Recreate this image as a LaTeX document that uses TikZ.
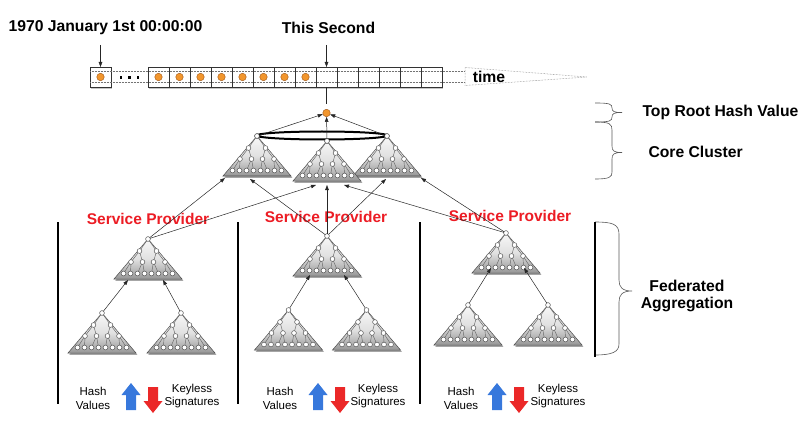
\documentclass[tikz,border=0pt]{standalone}
\usepackage{fontspec}
\setmainfont{Liberation Sans}
\usetikzlibrary{arrows.meta,shadows,calc}
\definecolor{dotorange}{RGB}{242,150,45}
\definecolor{dotedge}{RGB}{160,85,20}
\definecolor{sprov}{RGB}{236,28,36}
\definecolor{harrow}{RGB}{55,120,220}
\definecolor{karrow}{RGB}{235,40,40}
\definecolor{trifillA}{RGB}{248,248,248}
\definecolor{trifillB}{RGB}{150,150,150}
\tikzset{
  arr/.style={draw=black!85, line width=0.5pt, -{Triangle[length=5pt,width=3.6pt]}},
  tnode/.style={fill=white, draw=black!70, line width=0.45pt},
  tedge/.style={draw=black!60, line width=0.45pt},
  cell/.style={draw=black!80, line width=0.6pt, fill=white, minimum width=21pt, minimum height=20pt, inner sep=0pt, outer sep=0pt},
  odot/.style={circle, fill=dotorange, draw=dotedge, line width=0.4pt, minimum size=7.5pt, inner sep=0pt},
  hd/.style={font=\bfseries\fontsize{15.7}{18}\selectfont},
  sp/.style={font=\bfseries\fontsize{15.5}{18}\selectfont, text=sprov},
  sm/.style={font=\fontsize{11.5}{13.3}\selectfont, align=center},
  divider/.style={line width=1.8pt},
  brc/.style={draw=black!65, line width=0.6pt},
  tape/.style={densely dotted, draw=black!55, line width=0.5pt},
  pics/mtree/.style={code={
    \fill[black, opacity=0.35] (1.2,1.8) -- (35.4,41.9) -- (-32.8,41.9) -- cycle;
    \shade[top color=trifillA, bottom color=trifillB, middle color=black!12] (0,0) -- (34,40) -- (-34,40) -- cycle;
    \draw[draw=black!70, line width=0.5pt] (0,0) -- (34,40) -- (-34,40) -- cycle;
    \coordinate (-apex) at (0,0);
    \foreach \a/\b/\c/\d in {0/0/-8.5/12, 0/0/8.5/12, -8.5/12/-17/23, -8.5/12/-5.5/23,
        8.5/12/5.5/23, 8.5/12/17/23, -17/23/-24.5/34.5, -17/23/-17.5/34.5,
        -5.5/23/-10.5/34.5, -5.5/23/-3.5/34.5, 5.5/23/3.5/34.5, 5.5/23/10.5/34.5,
        17/23/17.5/34.5, 17/23/24.5/34.5}
      \draw[tedge] (\a,\b) -- (\c,\d);
    \foreach \x/\y in {0/0, -8.5/12, 8.5/12, -17/23, -5.5/23, 5.5/23, 17/23,
        -24.5/34.5, -17.5/34.5, -10.5/34.5, -3.5/34.5, 3.5/34.5, 10.5/34.5, 17.5/34.5, 24.5/34.5}
      \draw[tnode] (\x,\y) circle (2.4pt);
  }}
}
\begin{document}
\begin{tikzpicture}[x=1pt,y=-1pt]
\useasboundingbox (0,0) rectangle (806,433);

% ---------- timeline ----------
\node[hd] (l1970) at (105.5,28) {1970 January 1st 00:00:00};
\node[hd] (lsec) at (328.5,28) {This Second};
\node[cell, drop shadow={shadow xshift=1.2pt, shadow yshift=-1.8pt, opacity=0.45}] (c0) at (100.5,77) {};
\path[fill=white, drop shadow={shadow xshift=1.2pt, shadow yshift=-1.8pt, opacity=0.45}] (148,67) rectangle (442,87);
\foreach \i in {1,...,14} \node[cell] (c\i) at ({137.5+21*\i},77) {};
\draw[tape] (90,71.5) -- (465,71.5);
\draw[tape] (90,82.5) -- (465,82.5);
\draw[tape] (465,67.5) -- (587,77) -- (465,85.5) -- cycle;
\node[hd] (time) at (489,76.5) {time};
\foreach \x in {121,129.5,138} \fill (\x-1.3,76.2) rectangle (\x+1.3,78.8);
\node[odot] (d0) at (c0) {};
\foreach \i in {1,...,8} \node[odot] (d\i) at (c\i) {};
\coordinate (a1970) at (100.5,45);
\coordinate (asec) at (326.5,45);
\draw[arr] (a1970) -- (c0.north);
\draw[arr] (asec) -- (c9.north);

% ---------- core cluster ----------
\node[odot] (root) at (326.5,113) {};
\draw[line width=0.5pt, black!85, shorten >=5pt] (c9.south) -- (root);
\pic (cl) at (257,136) {mtree};
\pic (cr) at (387,136) {mtree};
\pic (cm) at (327,141) {mtree};
\draw[line width=2pt] (322,135.5) ellipse [x radius=65pt, y radius=4pt];
\foreach \p in {cl-apex, cr-apex, cm-apex} \draw[tnode] (\p) circle (2.4pt);
\draw[arr, shorten <=2.3pt] (cl-apex) -- (root);
\draw[arr, shorten <=2.3pt] (cm-apex) -- (root);
\draw[arr, shorten <=2.3pt] (cr-apex) -- (root);

% ---------- right labels ----------
\draw[brc] (595,103) .. controls (610,103) and (612,104) .. (612,108) .. controls (612,111.5) and (614,112.5) .. (622,112.5)
  .. controls (614,112.5) and (612,113.5) .. (612,117) .. controls (612,121) and (610,122) .. (595,122);
\draw[brc] (595,122) .. controls (610,122) and (612,124) .. (612,130) -- (612,146) .. controls (612,151) and (614,152.5) .. (622,152.5)
  .. controls (614,152.5) and (612,154) .. (612,159) -- (612,172) .. controls (612,177) and (610,179) .. (595,179);
\draw[brc] (595,222) .. controls (612,222) and (619,224) .. (619,234) -- (619,280) .. controls (619,287) and (622,291) .. (632,291)
  .. controls (622,291) and (619,295) .. (619,302) -- (619,344) .. controls (619,352) and (612,355) .. (595,355);
\node[hd, anchor=west] (ltop) at (639,112) {Top Root Hash Value};
\node[hd, anchor=west] (lcore) at (645,152) {Core Cluster};
\node[font=\bfseries\fontsize{15.7}{16.5}\selectfont, align=center] (lfed) at (687,296) {Federated\\Aggregation};

% ---------- dividers ----------
\draw[divider] (58,222) -- (58,404);
\draw[divider] (238,222) -- (238,404);
\draw[divider] (420,222) -- (420,404);
\draw[divider] (595,222) -- (595,357);

% ---------- service providers ----------
\node[sp] (sp1) at (148,219) {Service Provider};
\node[sp] (sp2) at (326,217) {Service Provider};
\node[sp] (sp3) at (510,216) {Service Provider};

\pic (g1t) at (148,239) {mtree};
\pic (g1l) at (102,313) {mtree};
\pic (g1r) at (181,313) {mtree};
\pic (g2t) at (327,236) {mtree};
\pic (g2l) at (288.5,310) {mtree};
\pic (g2r) at (366.5,310) {mtree};
\pic (g3t) at (506,233) {mtree};
\pic (g3l) at (468,305) {mtree};
\pic (g3r) at (548,305) {mtree};

\draw[arr, shorten <=2.3pt] (g1l-apex) -- ($(g1t-apex)+(-20,41)$);
\draw[arr, shorten <=2.3pt] (g1r-apex) -- ($(g1t-apex)+(15,41)$);
\draw[arr, shorten <=2.3pt] (g2l-apex) -- ($(g2t-apex)+(-17,39)$);
\draw[arr, shorten <=2.3pt] (g2r-apex) -- ($(g2t-apex)+(17,39)$);
\draw[arr, shorten <=2.3pt] (g3l-apex) -- ($(g3t-apex)+(-15,35)$);
\draw[arr, shorten <=2.3pt] (g3r-apex) -- ($(g3t-apex)+(18,35)$);

\draw[arr, shorten <=2.3pt] (g1t-apex) -- ($(cl-apex)+(-32,42)$);
\draw[arr, shorten <=2.3pt] (g1t-apex) -- ($(cm-apex)+(-11,44)$);
\draw[arr, shorten <=2.3pt] (g2t-apex) -- ($(cl-apex)+(-7,43)$);
\draw[arr, shorten <=2.3pt] (g2t-apex) -- ($(cm-apex)+(0,44)$);
\draw[arr, shorten <=2.3pt] (g2t-apex) -- ($(cr-apex)+(-1,43)$);
\draw[arr, shorten <=2.3pt] (g3t-apex) -- ($(cm-apex)+(17,44)$);
\draw[arr, shorten <=2.3pt] (g3t-apex) -- ($(cr-apex)+(34,42)$);

% ---------- bottom legend ----------
\foreach \g/\hx/\bx/\rx/\kx in {1/93/131/153/192, 2/280/318/340/378, 3/461/497/519/558} {
  \node[sm] (hash\g) at (\hx,398.5) {Hash\\Values};
  \node[sm] (key\g) at (\kx,396) {Keyless\\Signatures};
  \fill[harrow] (\bx,383) -- (\bx+9.5,395) -- (\bx+5,395) -- (\bx+5,410) -- (\bx-5,410) -- (\bx-5,395) -- (\bx-9.5,395) -- cycle;
  \fill[karrow] (\rx-5,387) -- (\rx+5,387) -- (\rx+5,401) -- (\rx+9.5,401) -- (\rx,413) -- (\rx-9.5,401) -- (\rx-5,401) -- cycle;
}
\end{tikzpicture}
\end{document}
